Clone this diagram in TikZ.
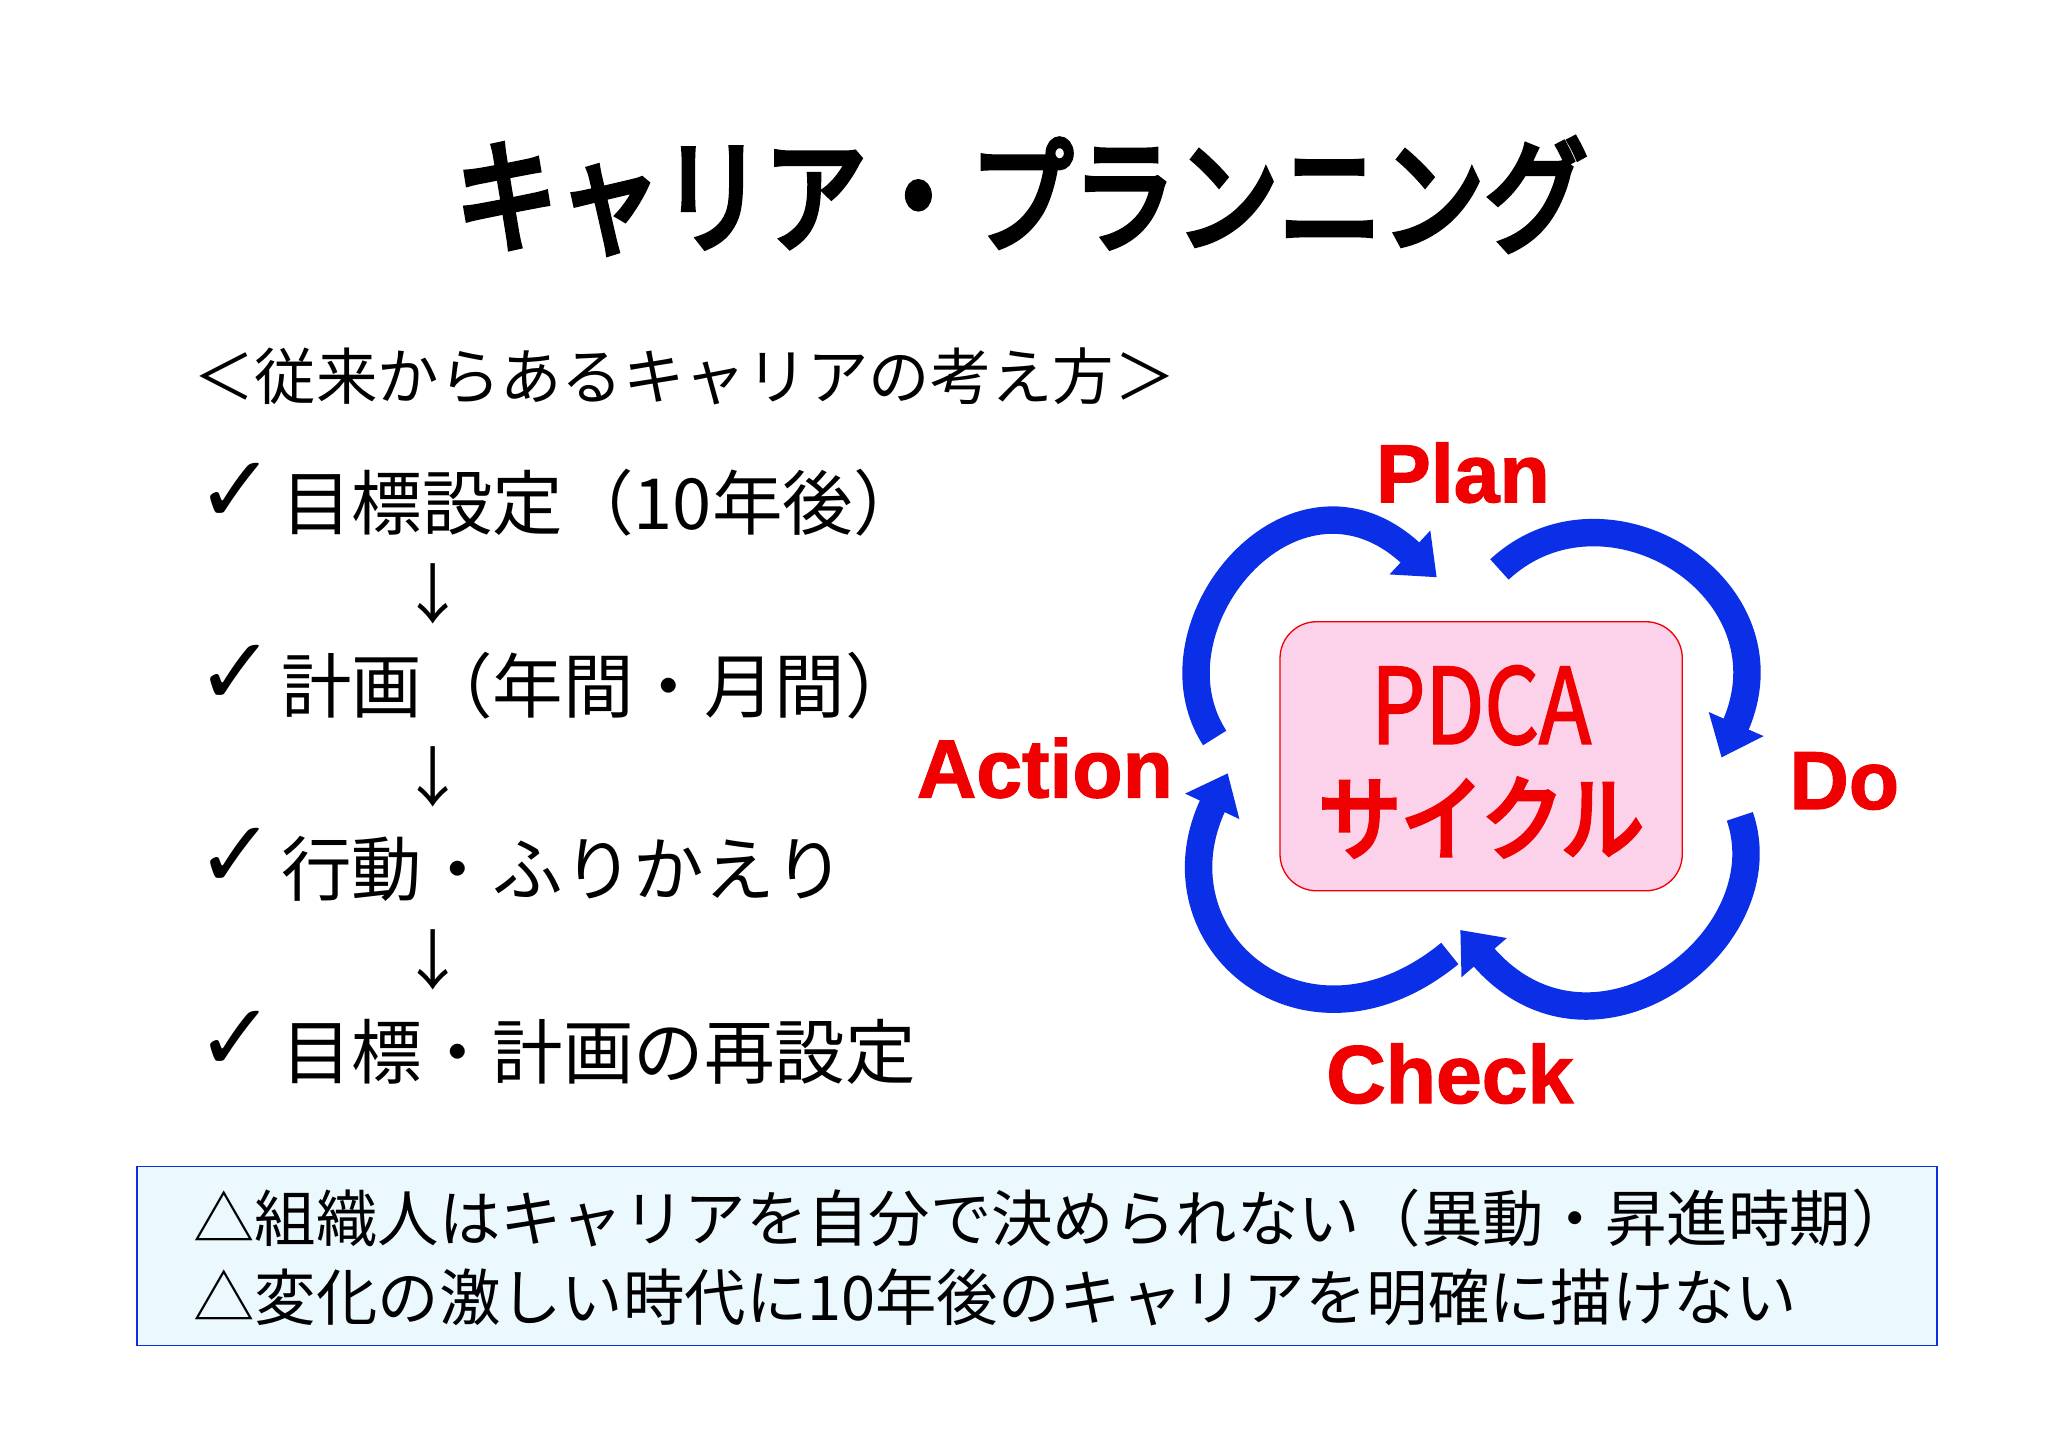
\documentclass[tikz,border=0pt]{standalone}
\usepackage{fontspec}
\usetikzlibrary{arrows.meta}
\newfontfamily\cjk{Noto Sans CJK JP}
\newfontfamily\cjkb{Noto Sans CJK JP}[FakeBold=5]
\newfontfamily\cjkm{Noto Sans CJK JP}[FakeBold=2]
\newfontfamily\dejavu{DejaVu Sans}
\setmainfont{Liberation Sans}[FakeBold=1.5]
\definecolor{arrblue}{HTML}{0A2FE6}
\definecolor{pdcared}{HTML}{F00000}
\begin{document}
\begin{tikzpicture}[x=1pt,y=-1pt,
  item/.style={anchor=west,font=\cjk\fontsize{54}{60}\selectfont,inner sep=0},
  chk/.style={anchor=west,font=\dejavu\fontsize{72}{76}\selectfont,inner sep=0},
  down/.style={font=\cjk\fontsize{50}{56}\selectfont,inner sep=0},
  lab/.style={font=\bfseries\fontsize{63}{68}\selectfont,text=pdcared,inner sep=0},
  cyc/.style={arrblue,line width=21pt,-{Triangle[length=28pt,width=44pt]}},
  bline/.style={anchor=west,font=\cjk\fontsize{47}{52}\selectfont,inner sep=0}]
\useasboundingbox[fill=white] (0,0) rectangle (1568,1108);
\node[font=\cjkb\fontsize{95}{100}\selectfont,xscale=0.83] (title) at (782,150) {キャリア・プランニング};
\node[anchor=west,font=\cjk\fontsize{47}{52}\selectfont,inner sep=0] (sub) at (148,288) {＜従来からあるキャリアの考え方＞};
\foreach \i/\y/\t in {1/385/目標設定（10年後）,2/525/計画（年間・月間）,3/665/行動・ふりかえり,4/805/目標・計画の再設定}{
  \node[chk] (c\i) at (150,\y-8) {✓};
  \node[item] (t\i) at (215,\y) {\t};
}
\foreach \i/\y in {1/455,2/595,3/735}{\node[down] (d\i) at (332,\y) {↓};}
% bottom box
\node[draw=arrblue,fill=cyan!8,line width=1pt,minimum width=1378pt,minimum height=137pt,inner sep=0] (bbox) at (794,961.5) {};
\node[bline] (b1) at (148,933) {△組織人はキャリアを自分で決められない（異動・昇進時期）};
\node[bline] (b2) at (148,993) {△変化の激しい時代に10年後のキャリアを明確に描けない};
% PDCA
\node[draw=pdcared,fill=magenta!18,rounded corners=28pt,minimum width=308pt,minimum height=206pt,line width=1pt] (pdca) at (1134,579) {};
\node[font=\cjkm\fontsize{80}{84}\selectfont,text=pdcared,xscale=0.82] (p1) at (1134,540) {PDCA};
\node[font=\cjkb\fontsize{70}{74}\selectfont,text=pdcared,xscale=0.9] (p2) at (1134,626) {サイクル};
\node[lab] (plan) at (1120,362) {Plan};
\node[lab] (do) at (1412,598) {Do};
\node[lab] (act) at (800,588) {Action};
\node[lab] (check) at (1110,822) {Check};
\coordinate (a1s) at (930,565); \coordinate (a1e) at (1100,442);
\coordinate (a2s) at (1148,436); \coordinate (a2e) at (1318,580);
\coordinate (a3s) at (1332,625); \coordinate (a3e) at (1118,712);
\coordinate (a4s) at (1110,730); \coordinate (a4e) at (940,592);
\draw[cyc] (a1s) .. controls (875,480) and (990,340) .. (a1e);
\draw[cyc] (a2s) .. controls (1230,360) and (1375,450) .. (a2e);
\draw[cyc] (a3s) .. controls (1365,720) and (1220,830) .. (a3e);
\draw[cyc] (a4s) .. controls (1000,820) and (880,720) .. (a4e);
\end{tikzpicture}
\end{document}
